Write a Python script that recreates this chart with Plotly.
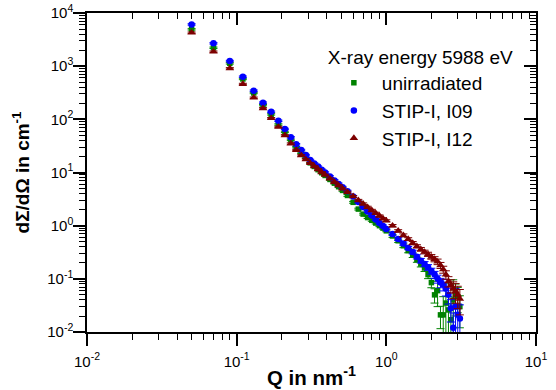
import plotly.graph_objects as go

# ---------------- data ----------------
Q = [0.05, 0.07, 0.09, 0.11, 0.13, 0.15, 0.17, 0.19, 0.21, 0.23,
     0.25, 0.27, 0.29, 0.31, 0.33, 0.35, 0.37, 0.39, 0.42, 0.45,
     0.48, 0.51, 0.55, 0.60, 0.65, 0.70, 0.75, 0.80, 0.85, 0.90,
     0.95, 1.00, 1.10, 1.20, 1.30, 1.40, 1.50, 1.60, 1.70, 1.80,
     1.90, 2.00, 2.10, 2.20, 2.30, 2.40, 2.50, 2.60, 2.70, 2.80,
     2.90, 3.00, 3.10]

I_unirr = [4930, 2220, 1130, 574, 313, 185, 124, 80, 58, 41,
           30, 23.5, 18.8, 15.2, 13.0, 11.3, 9.9, 8.8, 7.4, 6.3,
           5.4, 4.6, 3.7, 2.75, 2.05, 1.65, 1.42, 1.26, 1.12, 1.0,
           0.9, 0.80, 0.64, 0.52, 0.42, 0.34, 0.28, 0.23, 0.19, 0.16,
           0.12, 0.085, 0.05, 0.06, 0.021, 0.021, 0.035, 0.026, 0.017, 0.04,
           0.05, 0.046, 0.03]

I_i09 = [6100, 2690, 1250, 634, 346, 206, 139, 94, 66, 46,
         34, 26.5, 21.3, 17.2, 14.8, 12.9, 11.3, 10.0, 8.4, 7.1,
         6.1, 5.3, 4.45, 3.54, 2.79, 2.24, 1.85, 1.55, 1.31, 1.12,
         0.99, 0.87, 0.70, 0.56, 0.46, 0.38, 0.32, 0.26, 0.22, 0.19,
         0.165, 0.14, 0.12, 0.10, 0.085, 0.078, 0.066, 0.05, 0.028, 0.012,
         0.03, 0.021, 0.018]

I_i12 = [4260, 1870, 912, 462, 255, 161, 105, 72, 50, 35,
         26.5, 21, 17.6, 15.0, 13.1, 11.5, 10.1, 9.0, 7.65, 6.6,
         5.7, 4.98, 4.26, 3.56, 3.0, 2.58, 2.23, 1.95, 1.72, 1.53,
         1.36, 1.24, 1.0, 0.80, 0.66, 0.56, 0.47, 0.41, 0.36, 0.32,
         0.29, 0.26, 0.235, 0.21, 0.18, 0.15, 0.12, 0.09, 0.075, 0.065,
         0.058, 0.05, 0.042]

# relative uncertainties
rel_unirr = [0.03, 0.03, 0.03, 0.03, 0.03, 0.03, 0.03, 0.03, 0.03, 0.03,
             0.03, 0.03, 0.03, 0.03, 0.03, 0.03, 0.03, 0.03, 0.035, 0.035,
             0.035, 0.035, 0.04, 0.04, 0.04, 0.04, 0.04, 0.04, 0.04, 0.04,
             0.04, 0.04, 0.06, 0.07, 0.08, 0.09, 0.10, 0.11, 0.12, 0.14,
             0.16, 0.20, 0.30, 0.50, 0.45, 1.2, 1.3, 0.8, 1.0, 1.4,
             0.6, 0.5, 0.6]

rel_i09 = [0.03, 0.03, 0.03, 0.03, 0.03, 0.03, 0.03, 0.03, 0.03, 0.03,
           0.03, 0.03, 0.03, 0.03, 0.03, 0.03, 0.03, 0.03, 0.035, 0.035,
           0.035, 0.035, 0.04, 0.04, 0.04, 0.04, 0.04, 0.04, 0.04, 0.04,
           0.04, 0.04, 0.06, 0.06, 0.07, 0.07, 0.08, 0.09, 0.10, 0.11,
           0.12, 0.13, 0.15, 0.17, 0.20, 0.24, 0.28, 0.33, 0.45, 0.9,
           1.2, 0.6, 0.8]

rel_i12 = [0.03, 0.03, 0.03, 0.03, 0.03, 0.03, 0.03, 0.03, 0.03, 0.03,
           0.03, 0.03, 0.03, 0.03, 0.03, 0.03, 0.03, 0.03, 0.035, 0.035,
           0.035, 0.035, 0.04, 0.04, 0.04, 0.04, 0.04, 0.04, 0.04, 0.04,
           0.04, 0.04, 0.05, 0.05, 0.06, 0.06, 0.07, 0.07, 0.08, 0.08,
           0.09, 0.10, 0.11, 0.12, 0.13, 0.15, 0.18, 0.22, 0.28, 0.35,
           0.40, 0.45, 0.5]

names = ["unirradiated", "STIP-I, I09", "STIP-I, I12"]
legend_title = "X-ray energy 5988 eV"

x_tickvals = [0.01, 0.1, 1, 10]
x_ticktext = ["10<sup>-2</sup>", "10<sup>-1</sup>", "10<sup>0</sup>", "10<sup>1</sup>"]
y_tickvals = [0.01, 0.1, 1, 10, 100, 1000, 10000]
y_ticktext = ["10<sup>-2</sup>", "10<sup>-1</sup>", "10<sup>0</sup>", "10<sup>1</sup>",
              "10<sup>2</sup>", "10<sup>3</sup>", "10<sup>4</sup>"]
x_minor = [m * 10.0 ** e for e in range(-2, 1) for m in range(2, 10)]
y_minor = [m * 10.0 ** e for e in range(-2, 4) for m in range(2, 10)]

# ---------------- styles ----------------
GREEN = "#008200"
BLUE = "#0000ff"
RED = "#7d0000"
FONT = "Liberation Sans, Arial, Helvetica, sans-serif"


def abs_err(vals, rel):
    return [v * r for v, r in zip(vals, rel)]


fig = go.Figure()
series = [
    (I_unirr, rel_unirr, names[0], GREEN, "square", 5.5),
    (I_i09, rel_i09, names[1], BLUE, "circle", 6.5),
    (I_i12, rel_i12, names[2], RED, "triangle-up", 7.5),
]
for k, (vals, rel, nm, col, sym, sz) in enumerate(series):
    fig.add_trace(go.Scatter(
        x=Q, y=vals, mode="markers", name=nm,
        legendgroup="g%d" % k,
        marker=dict(symbol=sym, size=sz, color=col, line=dict(width=0)),
        error_y=dict(type="data", array=abs_err(vals, rel), color=col,
                     thickness=1, width=4),
    ))

# dummy trace for mirrored (top/right) axes
fig.add_trace(go.Scatter(x=[1], y=[1], xaxis="x2", yaxis="y2", mode="markers",
                         marker=dict(opacity=0), showlegend=False, hoverinfo="skip"))

common_x = dict(type="log", range=[-2, 1], tickmode="array", tickvals=x_tickvals,
                showgrid=False, zeroline=False, showline=True, linecolor="black",
                linewidth=1.5, tickcolor="black", tickwidth=1.5, ticklen=12,
                automargin=False)
common_y = dict(type="log", range=[-2, 4], tickmode="array", tickvals=y_tickvals,
                showgrid=False, zeroline=False, showline=True, linecolor="black",
                linewidth=1.5, tickcolor="black", tickwidth=1.5, ticklen=12,
                automargin=False)

fig.update_layout(
    width=556, height=390,
    margin=dict(l=87, r=20, t=13, b=58, autoexpand=False),
    paper_bgcolor="white", plot_bgcolor="white",
    font=dict(family=FONT, color="black"),
    showlegend=True,
    legend=dict(
        x=0.532, y=0.918, xanchor="left", yanchor="top",
        bgcolor="rgba(0,0,0,0)", borderwidth=0,
        title=dict(text=legend_title, font=dict(size=19, family=FONT)),
        font=dict(size=19, family=FONT),
        itemwidth=46,
        traceorder="grouped", tracegroupgap=0,
    ),
    xaxis=dict(**common_x, ticks="outside", ticktext=x_ticktext,
               tickfont=dict(size=15, family=FONT), ticklabelstandoff=3,
               minor=dict(tickmode="array", tickvals=x_minor, ticks="outside",
                          ticklen=6, tickwidth=1, tickcolor="black", showgrid=False),
               title=dict(text="<b>Q in nm<sup>-1</sup></b>",
                          font=dict(size=20.5, family=FONT), standoff=2)),
    yaxis=dict(**common_y, ticks="outside", ticktext=y_ticktext,
               tickfont=dict(size=15, family=FONT), ticklabelstandoff=-3,
               minor=dict(tickmode="array", tickvals=y_minor, ticks="outside",
                          ticklen=6, tickwidth=1, tickcolor="black", showgrid=False),
               title=dict(text="<b>d\u03a3/d\u03a9 in cm<sup>-1</sup></b>",
                          font=dict(size=19, family=FONT), standoff=13)),
    xaxis2=dict(**common_x, overlaying="x", side="top", anchor="y2",
                ticks="inside", showticklabels=False,
                minor=dict(tickmode="array", tickvals=x_minor, ticks="inside",
                           ticklen=6, tickwidth=1, tickcolor="black", showgrid=False)),
    yaxis2=dict(**common_y, overlaying="y", side="right", anchor="x2",
                ticks="inside", showticklabels=False,
                minor=dict(tickmode="array", tickvals=y_minor, ticks="inside",
                           ticklen=6, tickwidth=1, tickcolor="black", showgrid=False)),
)

fig.write_html("out.html")
